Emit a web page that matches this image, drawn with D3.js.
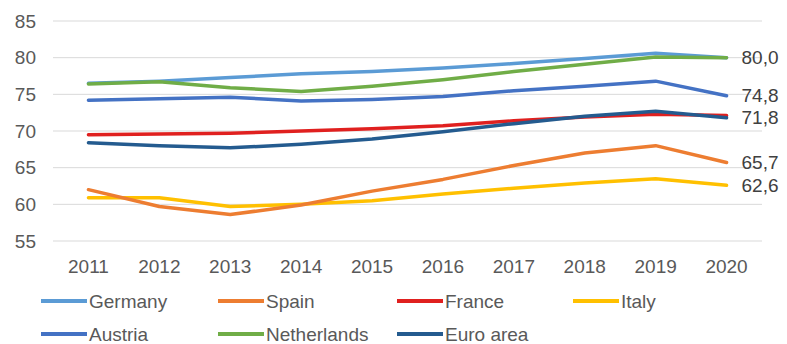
<!DOCTYPE html>
<html>
<head>
<meta charset="utf-8">
<script src="https://cdn.jsdelivr.net/npm/d3@7"></script>
<style>
  body { margin: 0; background: #fff; }
  svg { display: block; font-family: "Liberation Sans", Arial, sans-serif; }
</style>
</head>
<body>
<div id="chart"></div>
<script>
// chart data
var years = ["2011","2012","2013","2014","2015","2016","2017","2018","2019","2020"];
var yTicks = [55, 60, 65, 70, 75, 80, 85];

var germany     = [76.5, 76.8, 77.3, 77.8, 78.1, 78.6, 79.2, 79.9, 80.6, 80.0];
var spain       = [62.0, 59.7, 58.6, 59.9, 61.8, 63.4, 65.3, 67.0, 68.0, 65.7];
var france      = [69.5, 69.6, 69.7, 70.0, 70.3, 70.7, 71.4, 71.9, 72.3, 72.1];
var italy       = [60.9, 60.9, 59.7, 60.0, 60.5, 61.4, 62.2, 62.9, 63.5, 62.6];
var austria     = [74.2, 74.4, 74.6, 74.1, 74.3, 74.7, 75.5, 76.1, 76.8, 74.8];
var netherlands = [76.4, 76.7, 75.9, 75.4, 76.1, 77.0, 78.1, 79.1, 80.1, 80.0];
var euroArea    = [68.4, 68.0, 67.7, 68.2, 68.9, 69.9, 71.0, 72.0, 72.7, 71.8];

var seriesNames = ["Germany","Spain","France","Italy","Austria","Netherlands","Euro area"];
var seriesData  = [germany, spain, france, italy, austria, netherlands, euroArea];
var seriesColors = ["#5b9bd5","#ed7d31","#e0201f","#ffc000","#4472c4","#70ad47","#245b8f"];

// end labels (value shown at the right)
var endLabels = [
  {series: "Netherlands", text: "80,0"},
  {series: "Austria", text: "74,8"},
  {series: "Euro area", text: "71,8"},
  {series: "Spain", text: "65,7"},
  {series: "Italy", text: "62,6"}
];

var width = 787, height = 344;
var margin = {left: 53, right: 25, top: 21, bottom: 103};

var svg = d3.select("#chart").append("svg")
  .attr("width", width)
  .attr("height", height);

var x = d3.scalePoint()
  .domain(years)
  .range([margin.left, width - margin.right])
  .padding(0.5);

var y = d3.scaleLinear()
  .domain([55, 85])
  .range([height - margin.bottom, margin.top]);

// gridlines
svg.append("g").selectAll("line")
  .data(yTicks)
  .join("line")
  .attr("x1", margin.left)
  .attr("x2", width - margin.right)
  .attr("y1", d => y(d))
  .attr("y2", d => y(d))
  .attr("stroke", "#d9d9d9")
  .attr("stroke-width", 1);

// y axis labels
svg.append("g").selectAll("text")
  .data(yTicks)
  .join("text")
  .attr("x", 36)
  .attr("y", d => y(d))
  .attr("dy", "0.35em")
  .attr("text-anchor", "end")
  .attr("font-size", 19)
  .attr("fill", "#595959")
  .text(d => d);

// x axis labels
svg.append("g").selectAll("text")
  .data(years)
  .join("text")
  .attr("x", d => x(d))
  .attr("y", 266)
  .attr("dy", "0.35em")
  .attr("text-anchor", "middle")
  .attr("font-size", 19)
  .attr("fill", "#595959")
  .text(d => d);

// lines
var line = d3.line()
  .x((d, i) => x(years[i]))
  .y(d => y(d));

var drawOrder = [3, 1, 2, 6, 4, 0, 5];
svg.append("g").selectAll("path")
  .data(drawOrder)
  .join("path")
  .attr("d", i => line(seriesData[i]))
  .attr("fill", "none")
  .attr("stroke", i => seriesColors[i])
  .attr("stroke-width", 3.5)
  .attr("stroke-linejoin", "round")
  .attr("stroke-linecap", "round");

// end labels
svg.append("g").selectAll("text")
  .data(endLabels)
  .join("text")
  .attr("x", x(years[years.length - 1]) + 15)
  .attr("y", d => y(seriesData[seriesNames.indexOf(d.series)][years.length - 1]))
  .attr("dy", "0.35em")
  .attr("font-size", 19)
  .attr("fill", "#404040")
  .text(d => d.text);

// legend
var legendX = [41, 218, 397, 573];
var legendY = [301, 334];
var legend = svg.append("g").selectAll("g")
  .data(seriesNames)
  .join("g")
  .attr("transform", (d, i) => {
    var row = i < 4 ? 0 : 1;
    var col = i < 4 ? i : i - 4;
    return "translate(" + legendX[col] + "," + legendY[row] + ")";
  });

legend.append("line")
  .attr("x1", 0)
  .attr("x2", 46)
  .attr("stroke", (d, i) => seriesColors[i])
  .attr("stroke-width", 4);

legend.append("text")
  .attr("x", 48)
  .attr("dy", "0.35em")
  .attr("font-size", 19)
  .attr("fill", "#595959")
  .text(d => d);
</script>
</body>
</html>
